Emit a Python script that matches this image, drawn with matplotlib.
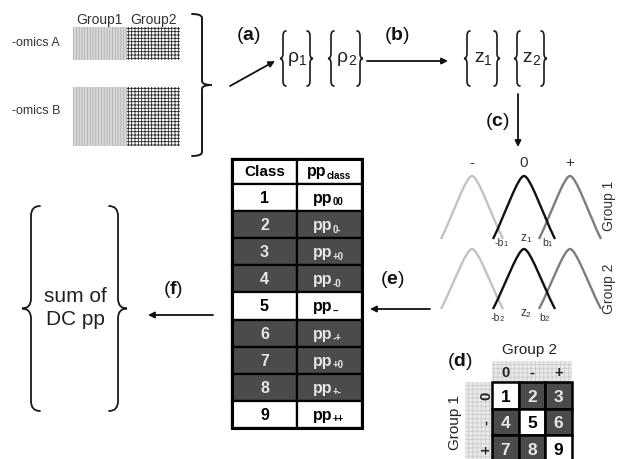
import numpy as np
import matplotlib
matplotlib.use('Agg')
import matplotlib.pyplot as plt
from matplotlib.patches import Rectangle, PathPatch
from matplotlib.path import Path

plt.rcParams['font.family'] = ['Liberation Sans', 'DejaVu Sans']
plt.rcParams['mathtext.fontset'] = 'custom'
plt.rcParams['mathtext.rm'] = 'Liberation Sans'
plt.rcParams['mathtext.bf'] = 'Liberation Sans:bold'
plt.rcParams['hatch.linewidth'] = 0.6

# input blocks
omics = ['-omics A', '-omics B']
groups = ['Group1', 'Group2']

# mixture components per group
states = ['-', '0', '+']
state_colors = ['#c2c2c2', '#111111', '#7d7d7d']
group_names = ['Group 1', 'Group 2']

# class table
class_ids = [1, 2, 3, 4, 5, 6, 7, 8, 9]
pp_subs = ['00', '0-', '+0', '-0', '--', '-+', '+0', '+-', '++']
concordant = [True, False, False, False, True, False, False, False, True]

# class matrix (rows: group 1 state, cols: group 2 state)
matrix_states = ['0', '-', '+']

DARK = '#4b4b4b'
LIGHT_TXT = '#e6e6e6'

fig = plt.figure(figsize=(6.24, 4.6), dpi=100)
ax = fig.add_axes([0, 0, 1, 1])
ax.set_xlim(0, 624)
ax.set_ylim(460, 0)
ax.axis('off')


def sub_text(x, y, base, sub, size, subsize, color='k', weight='normal', dy=0.0):
    t = ax.text(x, y, base, ha='center', va='center', fontsize=size,
                color=color, fontweight=weight)
    ax.annotate(sub, xy=(1, 0), xycoords=t, xytext=(0, dy),
                textcoords='offset points', ha='left', va='bottom',
                fontsize=subsize, color=color, fontweight=weight)


def brace(x, y0, y1, e, side, r=6, lw=1.4):
    # side=-1 -> '{' (nub to the left), side=+1 -> '}' (nub to the right)
    ym = (y0 + y1) / 2
    verts = [(x - side * e, y0), (x, y0), (x, y0 + r),
             (x, ym - r),
             (x, ym), (x + side * e, ym),
             (x, ym), (x, ym + r),
             (x, y1 - r),
             (x, y1), (x - side * e, y1)]
    codes = [Path.MOVETO, Path.CURVE3, Path.CURVE3, Path.LINETO,
             Path.CURVE3, Path.CURVE3, Path.CURVE3, Path.CURVE3,
             Path.LINETO, Path.CURVE3, Path.CURVE3]
    ax.add_patch(PathPatch(Path(verts, codes), fill=False, lw=lw,
                           edgecolor='#1a1a1a', capstyle='round'))


def arrow(x0, y0, x1, y1):
    ax.annotate('', xy=(x1, y1), xytext=(x0, y0),
                arrowprops=dict(arrowstyle='-|>', color='#111111', lw=1.3,
                                mutation_scale=9, shrinkA=0, shrinkB=0))


def step(x, y, letter):
    ax.text(x, y, '($\\mathbf{%s}$)' % letter, ha='center', va='center',
            fontsize=14, color='#111111')


def bell(x0, base, top, w, color):
    h = base - top
    verts = [(x0 - w, base), (x0 - 0.6 * w, base - 0.4 * h), (x0 - 0.2 * w, top),
             (x0, top), (x0 + 0.2 * w, top), (x0 + 0.6 * w, base - 0.4 * h),
             (x0 + w, base)]
    codes = [Path.MOVETO] + [Path.CURVE4] * 6
    ax.add_patch(PathPatch(Path(verts, codes), fill=False, lw=1.7,
                           edgecolor=color))


# ---- omics blocks ----
block_rows = [(28, 61), (88, 147)]
label_y = [43, 111]
for name, (y0, y1), ly in zip(omics, block_rows, label_y):
    ax.text(36, ly, name, ha='center', va='center', fontsize=9, color='#333333')
    ax.add_patch(Rectangle((73, y0), 54, y1 - y0, facecolor='#d9d9d9',
                           edgecolor='#b0b0b0', hatch='||||||', lw=0))
    ax.add_patch(Rectangle((127, y0), 53, y1 - y0, facecolor='white',
                           edgecolor='#2a2a2a', hatch='+++++', lw=0))
for gx, g in zip([99, 154], groups):
    ax.text(gx, 20, g, ha='center', va='center', fontsize=10, color='#333333')

brace(202, 15, 157, 10, 1, r=4)

# ---- correlations and z-scores ----
step(248, 35, 'a')
arrow(230, 87, 275, 62)
for i, xs in enumerate([(283, 310), (331, 360)]):
    brace(xs[0], 32, 87, 3, -1, r=5, lw=1.2)
    brace(xs[1], 32, 87, 3, 1, r=5, lw=1.2)
    sub_text((xs[0] + xs[1]) / 2 - 3, 58, '\u03c1', str(i + 1), 14, 10,
             color='#222222', dy=-1)

step(397, 35, 'b')
arrow(367, 62, 448, 62)
for i, xs in enumerate([(467, 497), (517, 544)]):
    brace(xs[0], 32, 87, 3, -1, r=5, lw=1.2)
    brace(xs[1], 32, 87, 3, 1, r=5, lw=1.2)
    sub_text((xs[0] + xs[1]) / 2 - 3, 58, 'z', str(i + 1), 14, 10,
             color='#222222', dy=-1)

# ---- mixture of three components per group ----
step(497, 122, 'c')
arrow(518, 95, 518, 148)
centers = [472, 524, 570]
for s, cx in zip(states, centers):
    ax.text(cx, 163, s, ha='center', va='center', fontsize=11, color='#333333')

rows = [(240, 177), (310, 250)]
for gi, (base, top) in enumerate(rows):
    for k in [0, 2, 1]:
        bell(centers[k], base, top, 31, state_colors[k])
    n = str(gi + 1)
    ly = base + 3 + 5 * gi
    sub_text(499 - 4 * gi, ly, '-b', n, 7.5, 5.5, color='#333333')
    sub_text(523, ly - 5, 'z', n, 8.5, 6, color='#333333')
    sub_text(545 - 3 * gi, ly, 'b', n, 7.5, 5.5, color='#333333')
    ax.text(609, 206 + 83 * gi, group_names[gi], rotation=90, ha='center',
            va='center', fontsize=10, color='#333333')

# ---- class table ----
step(392, 280, 'e')
arrow(430, 310, 370, 310)
col_x = [232, 297, 362]
head_y0, head_y1 = 160, 185
row_h = (429 - 185) / 9
ax.add_patch(Rectangle((col_x[0], head_y0), col_x[1] - col_x[0], head_y1 - head_y0,
                       facecolor='white', edgecolor='k', lw=1.6))
ax.add_patch(Rectangle((col_x[1], head_y0), col_x[2] - col_x[1], head_y1 - head_y0,
                       facecolor='white', edgecolor='k', lw=1.6))
ax.text(264.5, 172.5, 'Class', ha='center', va='center', fontsize=11,
        fontweight='bold')
sub_text(317, 172, 'pp', 'class', 11.5, 7, weight='bold', dy=-1)
for i, (cid, sub, conc) in enumerate(zip(class_ids, pp_subs, concordant)):
    y0 = head_y1 + i * row_h
    fc = 'white' if conc else DARK
    tc = 'black' if conc else LIGHT_TXT
    for c in range(2):
        ax.add_patch(Rectangle((col_x[c], y0), col_x[c + 1] - col_x[c], row_h,
                               facecolor=fc, edgecolor='k', lw=1.6))
    yc = y0 + row_h / 2
    ax.text(264.5, yc, str(cid), ha='center', va='center', fontsize=11.5,
            fontweight='bold', color=tc)
    sub_text(323, yc, 'pp', sub, 11.5, 7, color=tc, weight='bold', dy=-1)
ax.add_patch(Rectangle((col_x[0], head_y0), col_x[2] - col_x[0], 429 - head_y0,
                       fill=False, edgecolor='k', lw=2.2))

# ---- sum ----
step(173, 290, 'f')
arrow(213, 316, 148, 316)
brace(31, 207, 412, 9, -1, r=10, lw=1.3)
brace(118, 207, 412, 9, 1, r=10, lw=1.3)
ax.text(75, 297, 'sum of', ha='center', va='center', fontsize=15, color='#222222')
ax.text(75, 320, 'DC pp', ha='center', va='center', fontsize=15, color='#222222')

# ---- class matrix ----
step(460, 362, 'd')
mx = [492, 518.7, 545.3, 572]
my = [383, 409.5, 436, 462.5]
ax.add_patch(Rectangle((mx[0], 362), mx[3] - mx[0], my[0] - 362,
                       facecolor='#e9e9e9', edgecolor='#cdcdcd', hatch='++++', lw=0))
ax.add_patch(Rectangle((465, my[0]), mx[0] - 465, 460 - my[0],
                       facecolor='#e9e9e9', edgecolor='#cdcdcd', hatch='++++', lw=0))
ax.text(530, 350, group_names[1], ha='center', va='center', fontsize=11,
        color='#222222')
ax.text(455, 423, group_names[0], ha='center', va='center', fontsize=11,
        rotation=90, color='#222222')
grid = np.array(class_ids).reshape(3, 3)
diag = np.array(concordant).reshape(3, 3)
for j, s in enumerate(matrix_states):
    ax.text((mx[j] + mx[j + 1]) / 2, 373, s, ha='center', va='center',
            fontsize=10.5, fontweight='bold', color='#222222')
    ax.text(486, (my[j] + my[j + 1]) / 2, s, ha='center', va='center',
            fontsize=10.5, fontweight='bold', rotation=90, color='#222222')
for r in range(3):
    for c in range(3):
        fc = 'white' if diag[r, c] else DARK
        tc = 'black' if diag[r, c] else LIGHT_TXT
        ax.add_patch(Rectangle((mx[c], my[r]), mx[c + 1] - mx[c], my[r + 1] - my[r],
                               facecolor=fc, edgecolor='k', lw=1.8))
        ax.text((mx[c] + mx[c + 1]) / 2, (my[r] + my[r + 1]) / 2 + 1, str(grid[r, c]),
                ha='center', va='center', fontsize=12.5, fontweight='bold', color=tc)

fig.savefig('out.png', dpi=100)
